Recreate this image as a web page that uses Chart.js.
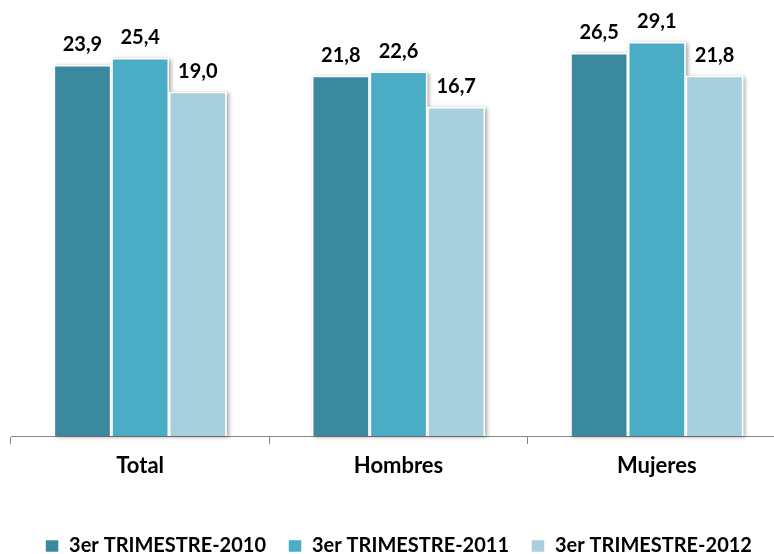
<!DOCTYPE html>
<html>
<head>
<meta charset="utf-8">
<script src="https://cdn.jsdelivr.net/npm/chart.js@4"></script>
<style>
  html, body { margin: 0; padding: 0; background: #fff; overflow: hidden; }
  #wrap { width: 792px; height: 566px; }
</style>
</head>
<body>
<div id="wrap"><canvas id="chart" width="792" height="566"></canvas></div>
<script>
// categories and series
const categories = ['Total', 'Hombres', 'Mujeres'];
const seriesNames = ['3er TRIMESTRE-2010', '3er TRIMESTRE-2011', '3er TRIMESTRE-2012'];
const values2010 = [23.9, 21.8, 26.5];
const values2011 = [25.4, 22.6, 29.1];
const values2012 = [19.0, 16.7, 21.8];
const colors = ['#3b899f', '#4bacc6', '#a8cfdd'];

const FONT = 'Lato, "Open Sans", sans-serif';

// soft shadow behind each bar
const barShadow = {
    id: 'barShadow',
    beforeDatasetsDraw(chart) {
        const ctx = chart.ctx;
        chart.data.datasets.forEach((ds, i) => {
            chart.getDatasetMeta(i).data.forEach(bar => {
                const w = bar.width;
                ctx.save();
                ctx.shadowColor = 'rgba(0,0,0,0.35)';
                ctx.shadowBlur = 4;
                ctx.shadowOffsetX = 2;
                ctx.shadowOffsetY = 1;
                ctx.fillStyle = '#fff';
                ctx.fillRect(bar.x - w / 2, bar.y, w, bar.base - bar.y);
                ctx.restore();
            });
        });
    }
};

// value labels above the bars, comma decimal
const valueLabels = {
    id: 'valueLabels',
    afterDatasetsDraw(chart) {
        const ctx = chart.ctx;
        ctx.save();
        ctx.font = 'bold 20px ' + FONT;
        ctx.fillStyle = '#000';
        ctx.textAlign = 'center';
        ctx.textBaseline = 'alphabetic';
        chart.data.datasets.forEach((ds, i) => {
            chart.getDatasetMeta(i).data.forEach((bar, j) => {
                const txt = ds.data[j].toFixed(1).replace('.', ',');
                ctx.fillText(txt, bar.x, bar.y - 14);
            });
        });
        ctx.restore();
    }
};

new Chart(document.getElementById('chart'), {
    type: 'bar',
    data: {
        labels: categories,
        datasets: [values2010, values2011, values2012].map((d, i) => ({
            label: seriesNames[i],
            data: d,
            backgroundColor: colors[i],
            borderColor: '#ffffff',
            borderWidth: 1.5,
            categoryPercentage: 0.67,
            barPercentage: 1.0
        }))
    },
    options: {
        responsive: false,
        animation: false,
        layout: { padding: { left: 11, right: 6, top: 0, bottom: 0 } },
        plugins: {
            tooltip: { enabled: false },
            legend: {
                position: 'bottom',
                labels: {
                    boxWidth: 14,
                    boxHeight: 13,
                    padding: 22,
                    color: '#000',
                    font: { family: FONT, size: 20, weight: 'bold' }
                }
            }
        },
        scales: {
            x: {
                // keep the plot bottom where the reference has its axis
                afterFit(scale) { scale.height = 78; },
                grid: {
                    offset: true,
                    drawOnChartArea: false,
                    drawTicks: true,
                    tickLength: 8,
                    color: '#868686'
                },
                border: { color: '#868686', width: 1 },
                ticks: {
                    color: '#000',
                    padding: 9,
                    font: { family: FONT, size: 22, weight: 'bold' }
                }
            },
            y: {
                type: 'logarithmic',
                min: 1,
                max: 41.7,
                display: false
            }
        }
    },
    plugins: [barShadow, valueLabels]
});
</script>
</body>
</html>
